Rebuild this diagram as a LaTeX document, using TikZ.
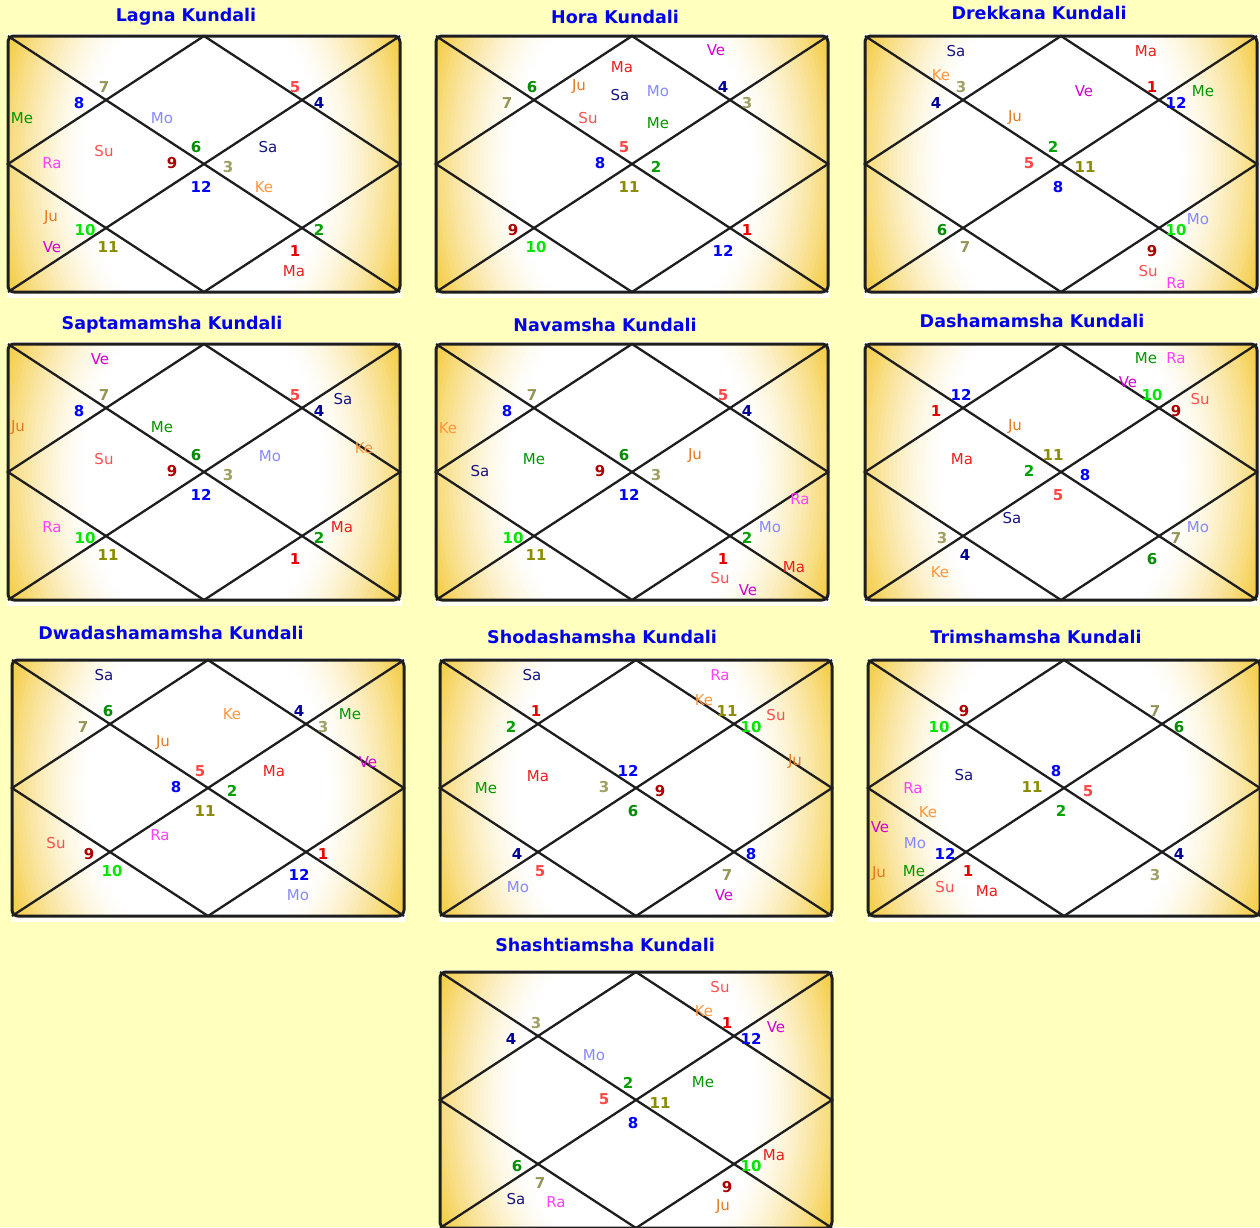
\documentclass[tikz,border=0pt]{standalone}
\usepackage{fontspec}
\setmainfont{DejaVu Sans}
\usepackage{tikz}
\usetikzlibrary{positioning}

% chart and text colours
\definecolor{pagebg}{RGB}{255,255,190}
\definecolor{chartbg}{RGB}{255,255,245}
\definecolor{kgold}{RGB}{245,206,76}
\definecolor{kline}{RGB}{30,30,30}
\definecolor{ttl}{RGB}{0,0,235}
% planets
\definecolor{meC}{RGB}{0,150,0}
\definecolor{moC}{RGB}{136,136,255}
\definecolor{suC}{RGB}{255,80,80}
\definecolor{raC}{RGB}{255,64,255}
\definecolor{juC}{RGB}{230,120,30}
\definecolor{veC}{RGB}{210,0,210}
\definecolor{saC}{RGB}{20,20,130}
\definecolor{keC}{RGB}{255,150,60}
\definecolor{maC}{RGB}{235,30,30}
% signs
\definecolor{sg1}{RGB}{230,0,0}
\definecolor{sg2}{RGB}{0,160,0}
\definecolor{sg3}{RGB}{160,160,100}
\definecolor{sg4}{RGB}{0,0,150}
\definecolor{sg5}{RGB}{255,70,70}
\definecolor{sg6}{RGB}{0,140,0}
\definecolor{sg7}{RGB}{150,150,90}
\definecolor{sg8}{RGB}{0,0,255}
\definecolor{sg9}{RGB}{170,0,0}
\definecolor{sg10}{RGB}{0,230,0}
\definecolor{sg11}{RGB}{140,140,0}
\definecolor{sg12}{RGB}{0,0,255}

% one north-indian chart: #1 name, #2 top-left corner, #3 lagna sign
\newcommand{\kundali}[3]{%
  \begin{scope}[shift={#2}]
    \fill[chartbg] (-1,-2) rectangle (394,262);
    \begin{scope}
      \clip[rounded corners=6pt] (0,0) rectangle (392,256);
      \fill[kgold] (0,0) rectangle (392,256);
      % glow: white centre fading to gold at the sides
      \foreach \r in {216,212,...,116}{
        \pgfmathtruncatemacro{\g}{100*(max(0,min(1,(\r-118)/95)))^1.5}
        \fill[kgold!\g!white] (196,128) ellipse ({\r*1pt} and {\r*1.4pt});
      }
    \end{scope}
    \draw[grid] (0,0) -- (392,256) (392,0) -- (0,256);
    \draw[grid] (196,0) -- (392,128) -- (196,256) -- (0,128) -- cycle;
    \draw[frame] (0,0) rectangle (392,256);
    \foreach \h/\x/\y in {1/188/111, 2/96/51, 3/71/67, 4/164/127,
                          5/77/194, 6/100/211, 7/193/151, 8/287/215,
                          9/311/194, 10/220/131, 11/311/67, 12/287/51}{
      \pgfmathtruncatemacro{\s}{mod(#3+\h-2,12)+1}
      \node[num, text=sg\s] (#1-h\h) at (\x,\y) {\s};
    }
  \end{scope}}

\begin{document}
\begin{tikzpicture}[
  x=1pt, y=-1pt,
  title/.style={inner sep=0pt, text=ttl, font=\fontsize{17.5}{18}\selectfont\bfseries},
  pl/.style={inner sep=0pt, font=\fontsize{15}{15}\selectfont},
  num/.style={inner sep=0pt, font=\fontsize{15}{15}\selectfont\bfseries},
  frame/.style={draw=kline, line width=3pt, rounded corners=6pt},
  grid/.style={draw=kline, line width=2.3pt}
]
\fill[pagebg] (0,0) rectangle (1260,1227);
\useasboundingbox (0,0) rectangle (1260,1227);

% ---- Lagna ----
\kundali{lagna}{(8,36)}{6}
\node[title] (lagna-t) at (186,17) {Lagna Kundali};
\begin{scope}[shift={(8,36)}]
\node[pl, text=meC] (lagna-me) at (14,82)  {Me};
\node[pl, text=moC] (lagna-mo) at (154,82) {Mo};
\node[pl, text=suC] (lagna-su) at (96,115) {Su};
\node[pl, text=raC] (lagna-ra) at (44,127) {Ra};
\node[pl, text=saC] (lagna-sa) at (260,111) {Sa};
\node[pl, text=keC] (lagna-ke) at (256,151) {Ke};
\node[pl, text=juC] (lagna-ju) at (43,182) {Ju};
\node[pl, text=veC] (lagna-ve) at (44,211) {Ve};
\node[pl, text=maC] (lagna-ma) at (286,235) {Ma};
\end{scope}

% ---- Hora ----
\kundali{hora}{(436,36)}{5}
\node[title] (hora-t) at (615,17) {Hora Kundali};
\begin{scope}[shift={(436,36)}]
\node[pl, text=veC] (hora-ve) at (280,14) {Ve};
\node[pl, text=maC] (hora-ma) at (186,31) {Ma};
\node[pl, text=juC] (hora-ju) at (143,51) {Ju};
\node[pl, text=saC] (hora-sa) at (184,59) {Sa};
\node[pl, text=moC] (hora-mo) at (222,55) {Mo};
\node[pl, text=suC] (hora-su) at (152,82) {Su};
\node[pl, text=meC] (hora-me) at (222,87) {Me};
\end{scope}

% ---- Drekkana ----
\kundali{drek}{(865,36)}{2}
\node[title] (drek-t) at (1039,13) {Drekkana Kundali};
\begin{scope}[shift={(865,36)}]
\node[pl, text=saC] (drek-sa) at (91,15) {Sa};
\node[pl, text=keC] (drek-ke) at (76,39) {Ke};
\node[pl, text=maC] (drek-ma) at (281,15) {Ma};
\node[pl, text=veC] (drek-ve) at (219,55) {Ve};
\node[pl, text=meC] (drek-me) at (338,55) {Me};
\node[pl, text=juC] (drek-ju) at (150,82) {Ju};
\node[pl, text=moC] (drek-mo) at (333,183) {Mo};
\node[pl, text=suC] (drek-su) at (283,235) {Su};
\node[pl, text=raC] (drek-ra) at (311,247) {Ra};
\end{scope}

% ---- Saptamamsha ----
\kundali{sapt}{(8,344)}{6}
\node[title] (sapt-t) at (172,325) {Saptamamsha Kundali};
\begin{scope}[shift={(8,344)}]
\node[pl, text=veC] (sapt-ve) at (92,15) {Ve};
\node[pl, text=juC] (sapt-ju) at (10,84) {Ju};
\node[pl, text=meC] (sapt-me) at (154,83) {Me};
\node[pl, text=suC] (sapt-su) at (96,115) {Su};
\node[pl, text=moC] (sapt-mo) at (262,112) {Mo};
\node[pl, text=saC] (sapt-sa) at (335,55) {Sa};
\node[pl, text=keC] (sapt-ke) at (356,104) {Ke};
\node[pl, text=raC] (sapt-ra) at (44,183) {Ra};
\node[pl, text=maC] (sapt-ma) at (334,183) {Ma};
\end{scope}

% ---- Navamsha ----
\kundali{nav}{(436,344)}{6}
\node[title] (nav-t) at (605,325) {Navamsha Kundali};
\begin{scope}[shift={(436,344)}]
\node[pl, text=keC] (nav-ke) at (12,84) {Ke};
\node[pl, text=meC] (nav-me) at (98,115) {Me};
\node[pl, text=saC] (nav-sa) at (44,127) {Sa};
\node[pl, text=juC] (nav-ju) at (259,112) {Ju};
\node[pl, text=raC] (nav-ra) at (364,155) {Ra};
\node[pl, text=moC] (nav-mo) at (334,183) {Mo};
\node[pl, text=maC] (nav-ma) at (358,223) {Ma};
\node[pl, text=suC] (nav-su) at (284,234) {Su};
\node[pl, text=veC] (nav-ve) at (312,246) {Ve};
\end{scope}

% ---- Dashamamsha ----
\kundali{dash}{(865,344)}{11}
\node[title] (dash-t) at (1032,321) {Dashamamsha Kundali};
\begin{scope}[shift={(865,344)}]
\node[pl, text=meC] (dash-me) at (281,14) {Me};
\node[pl, text=raC] (dash-ra) at (311,14) {Ra};
\node[pl, text=veC] (dash-ve) at (263,38) {Ve};
\node[pl, text=suC] (dash-su) at (335,55) {Su};
\node[pl, text=juC] (dash-ju) at (150,83) {Ju};
\node[pl, text=maC] (dash-ma) at (97,115) {Ma};
\node[pl, text=saC] (dash-sa) at (147,174) {Sa};
\node[pl, text=moC] (dash-mo) at (333,183) {Mo};
\node[pl, text=keC] (dash-ke) at (75,228) {Ke};
\end{scope}

% ---- Dwadashamamsha ----
\kundali{dwad}{(12,660)}{5}
\node[title] (dwad-t) at (171,633) {Dwadashamamsha Kundali};
\begin{scope}[shift={(12,660)}]
\node[pl, text=saC] (dwad-sa) at (92,15) {Sa};
\node[pl, text=keC] (dwad-ke) at (220,54) {Ke};
\node[pl, text=meC] (dwad-me) at (338,54) {Me};
\node[pl, text=juC] (dwad-ju) at (151,83) {Ju};
\node[pl, text=veC] (dwad-ve) at (356,102) {Ve};
\node[pl, text=maC] (dwad-ma) at (262,111) {Ma};
\node[pl, text=raC] (dwad-ra) at (148,175) {Ra};
\node[pl, text=suC] (dwad-su) at (44,183) {Su};
\node[pl, text=moC] (dwad-mo) at (286,235) {Mo};
\end{scope}

% ---- Shodashamsha ----
\kundali{shod}{(440,660)}{12}
\node[title] (shod-t) at (602,637) {Shodashamsha Kundali};
\begin{scope}[shift={(440,660)}]
\node[pl, text=saC] (shod-sa) at (92,15) {Sa};
\node[pl, text=raC] (shod-ra) at (280,15) {Ra};
\node[pl, text=keC] (shod-ke) at (264,40) {Ke};
\node[pl, text=suC] (shod-su) at (336,55) {Su};
\node[pl, text=juC] (shod-ju) at (355,102) {Ju};
\node[pl, text=maC] (shod-ma) at (98,116) {Ma};
\node[pl, text=meC] (shod-me) at (46,128) {Me};
\node[pl, text=moC] (shod-mo) at (78,227) {Mo};
\node[pl, text=veC] (shod-ve) at (284,235) {Ve};
\end{scope}

% ---- Trimshamsha ----
\kundali{trim}{(868,660)}{8}
\node[title] (trim-t) at (1036,637) {Trimshamsha Kundali};
\begin{scope}[shift={(868,660)}]
\node[pl, text=saC] (trim-sa) at (96,115) {Sa};
\node[pl, text=raC] (trim-ra) at (45,128) {Ra};
\node[pl, text=keC] (trim-ke) at (60,152) {Ke};
\node[pl, text=veC] (trim-ve) at (12,167) {Ve};
\node[pl, text=moC] (trim-mo) at (47,183) {Mo};
\node[pl, text=juC] (trim-ju) at (11,214) {Ju};
\node[pl, text=meC] (trim-me) at (46,211) {Me};
\node[pl, text=suC] (trim-su) at (77,227) {Su};
\node[pl, text=maC] (trim-ma) at (119,231) {Ma};
\end{scope}

% ---- Shashtiamsha ----
\kundali{shash}{(440,972)}{2}
\node[title] (shash-t) at (605,945) {Shashtiamsha Kundali};
\begin{scope}[shift={(440,972)}]
\node[pl, text=suC] (shash-su) at (280,15) {Su};
\node[pl, text=keC] (shash-ke) at (264,39) {Ke};
\node[pl, text=veC] (shash-ve) at (336,55) {Ve};
\node[pl, text=moC] (shash-mo) at (154,83) {Mo};
\node[pl, text=meC] (shash-me) at (263,110) {Me};
\node[pl, text=maC] (shash-ma) at (334,183) {Ma};
\node[pl, text=saC] (shash-sa) at (76,227) {Sa};
\node[pl, text=raC] (shash-ra) at (116,230) {Ra};
\node[pl, text=juC] (shash-ju) at (283,235) {Ju};
\end{scope}
\end{tikzpicture}
\end{document}
